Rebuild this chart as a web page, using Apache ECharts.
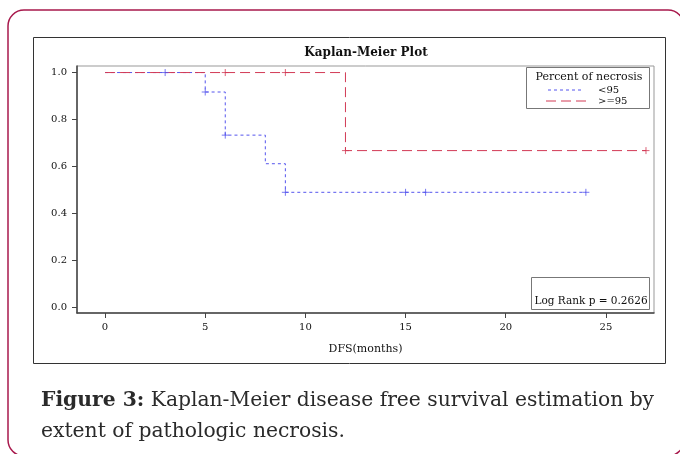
<!DOCTYPE html>
<html>
<head>
<meta charset="utf-8">
<style>
  html, body { margin: 0; padding: 0; background: #fff; }
  #km_plot { width: 680px; height: 454px; }
</style>
<script src="https://cdn.jsdelivr.net/npm/echarts@6/dist/echarts.min.js"></script>
</head>
<body>
<div id="km_plot"></div>
<script>
// 曲线数据 (DFS months / survival)
var lowTimes = [0, 5, 6, 8, 9, 24]
var lowSurv = [1.0, 0.917, 0.733, 0.611, 0.489, 0.489]
var lowCensorTimes = [3, 5, 6, 9, 15, 16, 24]
var lowCensorSurv = [1.0, 0.917, 0.733, 0.489, 0.489, 0.489, 0.489]

var highTimes = [0, 12, 27]
var highSurv = [1.0, 0.667, 0.667]
var highCensorTimes = [6, 9, 12, 27]
var highCensorSurv = [1.0, 1.0, 0.667, 0.667]

var xTicks = [0, 5, 10, 15, 20, 25]
var yTicks = [0, 0.2, 0.4, 0.6, 0.8, 1.0]
var groupNames = ['<95', '>=95']

var blue = '#5555ee'
var red = '#d23a55'
var sasFont = '"DejaVu Serif", serif'
var capFont = '"DejaVu Serif", serif'
var plusPath = 'path://M0,-1L0,1M-1,0L1,0'

function zip(a, b) {
  return a.map(function (v, i) { return [v, b[i]] })
}

var myChart = echarts.init(document.getElementById('km_plot'))

var option = {
  animation: false,
  backgroundColor: '#fff',
  grid: {
    left: 77, right: 26, top: 66, bottom: 141,
    show: true, borderColor: '#999', borderWidth: 1
  },
  xAxis: {
    type: 'value',
    min: -1.4,
    max: 27.4,
    splitLine: { show: false },
    axisLine: { onZero: false, lineStyle: { color: '#444', width: 1.5 } },
    axisTick: { length: 5, lineStyle: { color: '#444' }, customValues: xTicks },
    axisLabel: {
      customValues: xTicks, color: '#111', fontFamily: sasFont, fontSize: 10, margin: 9
    },
    name: 'DFS(months)',
    nameLocation: 'middle',
    nameGap: 31,
    nameTextStyle: { color: '#111', fontFamily: sasFont, fontSize: 11 }
  },
  yAxis: {
    type: 'value',
    min: -0.026,
    max: 1.028,
    splitLine: { show: false },
    axisLine: { onZero: false, lineStyle: { color: '#444', width: 1.5 } },
    axisTick: { length: 5, lineStyle: { color: '#444' }, customValues: yTicks },
    axisLabel: {
      customValues: yTicks, color: '#111', fontFamily: sasFont, fontSize: 10, margin: 10,
      formatter: function (v) { return v.toFixed(1) }
    }
  },
  series: [
    {
      name: groupNames[0], type: 'line', step: 'end', symbol: 'none',
      lineStyle: { color: blue, width: 1, type: [3, 3] },
      data: zip(lowTimes, lowSurv), z: 3
    },
    {
      name: groupNames[1], type: 'line', step: 'end', symbol: 'none',
      lineStyle: { color: red, width: 1, type: [10, 5] },
      data: zip(highTimes, highSurv), z: 3
    },
    {
      type: 'scatter', symbol: plusPath, symbolSize: 7,
      itemStyle: { color: 'none', borderColor: blue, borderWidth: 1 },
      data: zip(lowCensorTimes, lowCensorSurv), z: 4
    },
    {
      type: 'scatter', symbol: plusPath, symbolSize: 7,
      itemStyle: { color: 'none', borderColor: red, borderWidth: 1 },
      data: zip(highCensorTimes, highCensorSurv), z: 4
    }
  ],
  graphic: [
    // 外框
    {
      type: 'rect', shape: { x: 8, y: 10, width: 676, height: 446, r: 16 },
      style: { fill: 'none', stroke: '#a8194c', lineWidth: 1.5 }, z: -10
    },
    {
      type: 'rect', shape: { x: 33.5, y: 37.5, width: 632, height: 326 },
      style: { fill: 'none', stroke: '#333', lineWidth: 1 }, z: -9
    },
    {
      type: 'text', x: 366, y: 53,
      style: {
        text: 'Kaplan-Meier Plot', fill: '#111', font: 'bold 12px ' + sasFont,
        align: 'center', verticalAlign: 'middle'
      }
    },
    // 图例
    {
      type: 'rect', z: 50, shape: { x: 526.5, y: 67.5, width: 123, height: 41 },
      style: { fill: '#fff', stroke: '#777', lineWidth: 1 }
    },
    {
      type: 'text', z: 51, x: 589, y: 77,
      style: {
        text: 'Percent of necrosis', fill: '#111', font: '11px ' + sasFont,
        align: 'center', verticalAlign: 'middle'
      }
    },
    {
      type: 'line', z: 51, shape: { x1: 548, y1: 90, x2: 584, y2: 90 },
      style: { stroke: blue, lineWidth: 1, lineDash: [3, 3] }
    },
    {
      type: 'text', z: 51, x: 598, y: 90,
      style: { text: groupNames[0], fill: '#111', font: '10px ' + sasFont, verticalAlign: 'middle' }
    },
    {
      type: 'line', z: 51, shape: { x1: 546, y1: 101, x2: 586, y2: 101 },
      style: { stroke: red, lineWidth: 1, lineDash: [10, 5] }
    },
    {
      type: 'text', z: 51, x: 598, y: 101,
      style: { text: groupNames[1], fill: '#111', font: '10px ' + sasFont, verticalAlign: 'middle' }
    },
    // Log rank
    {
      type: 'rect', z: 50, shape: { x: 531.5, y: 277.5, width: 118, height: 32 },
      style: { fill: '#fff', stroke: '#777', lineWidth: 1 }
    },
    {
      type: 'text', z: 51, x: 591, y: 301,
      style: {
        text: 'Log Rank p = 0.2626', fill: '#111', font: '10.5px ' + sasFont,
        align: 'center', verticalAlign: 'middle'
      }
    },
    // 图注
    {
      type: 'text', x: 41, y: 416,
      style: {
        text: '{b|Figure 3:} Kaplan-Meier disease free survival estimation by\nextent of pathologic necrosis.',
        fill: '#2a2a2a', font: '20.3px ' + capFont, lineHeight: 31, verticalAlign: 'middle',
        rich: {
          b: { fontWeight: 'bold', fontSize: 20.3, fontFamily: capFont, fill: '#2a2a2a' }
        }
      }
    }
  ]
}

myChart.setOption(option)
window.onresize = myChart.resize
</script>
</body>
</html>
